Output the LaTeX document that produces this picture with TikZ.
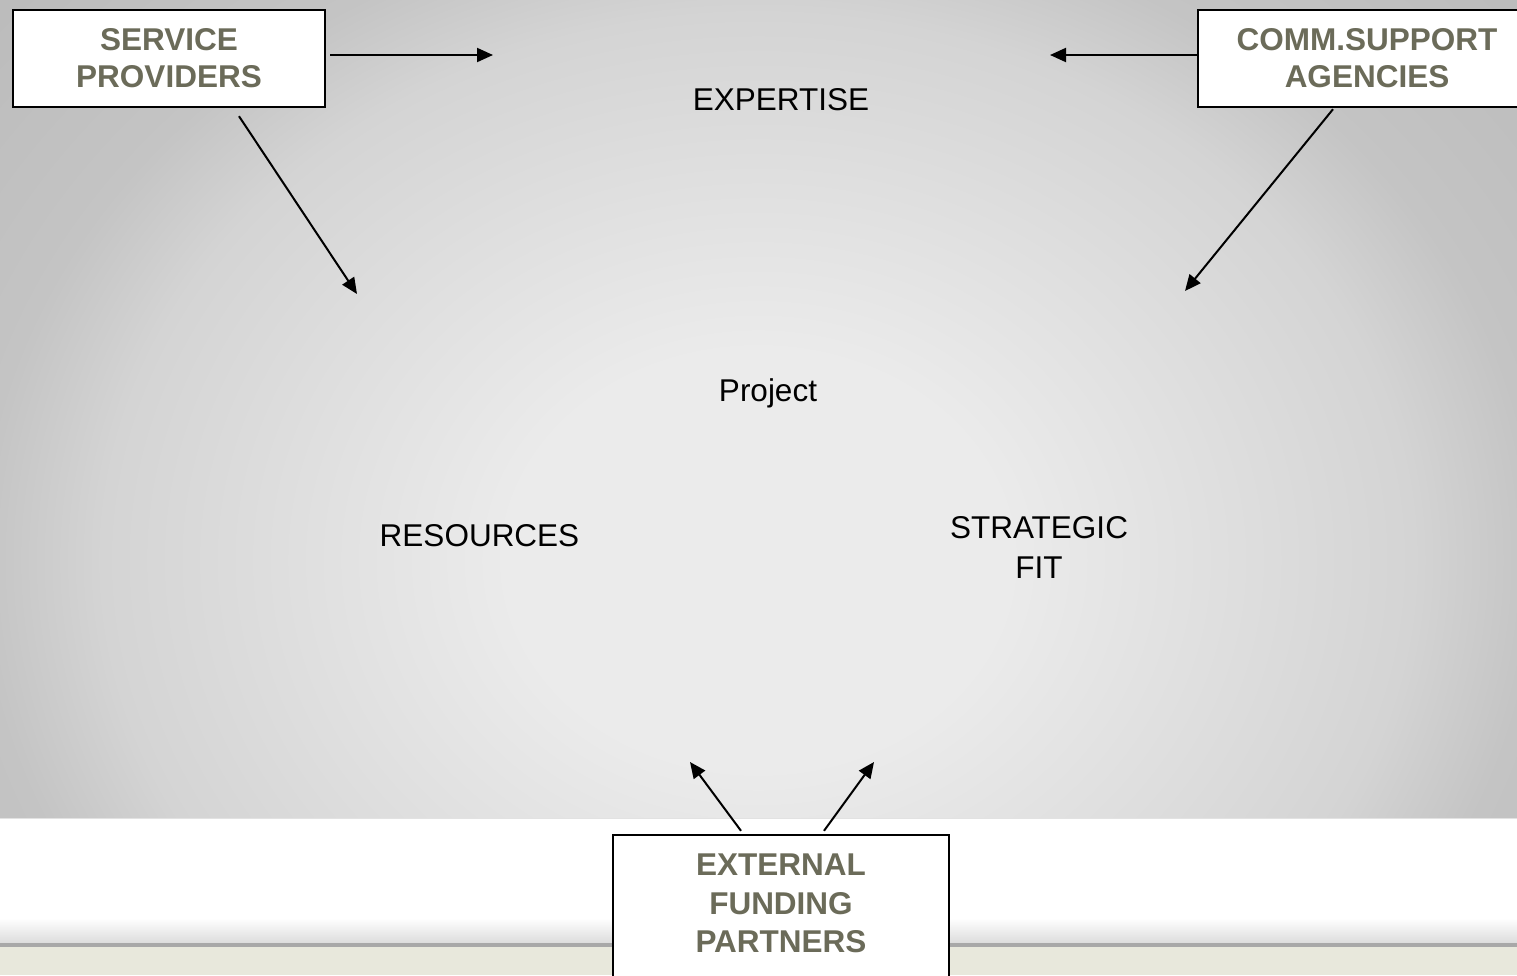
\documentclass[tikz,border=0pt]{standalone}
\usepackage{fontspec}
\setmainfont{Liberation Sans}
\usetikzlibrary{arrows.meta,calc}
\definecolor{boxtext}{HTML}{6B6B59}
\definecolor{beige}{HTML}{E8E8DC}
\definecolor{gA}{HTML}{EBEBEB}
\definecolor{gB}{HTML}{D4D4D4}
\definecolor{gC}{HTML}{C4C4C4}
\definecolor{gD}{HTML}{BBBBBB}
\definecolor{shadowgray}{HTML}{DCDCDC}
\definecolor{linegray}{HTML}{A8A8A8}
\definecolor{edgegray}{HTML}{E2E2E2}
\pgfdeclareradialshading{bgshade}{\pgfpoint{0bp}{0bp}}{color(0bp)=(gA); color(8bp)=(gA); color(21bp)=(gB); color(25bp)=(gC); color(33bp)=(gD); color(50bp)=(gD)}
\tikzset{
  box/.style={draw=black, line width=2.4pt, fill=white, inner sep=0pt},
  boxtxt/.style={font=\bfseries\fontsize{31.5}{37}\selectfont, text=boxtext, align=center, inner sep=0pt},
  lbl/.style={font=\fontsize{31.5}{40}\selectfont, text=black, align=center, inner sep=0pt},
  arr/.style={line width=2pt, -{Triangle[length=16pt,width=14pt]}}
}
\begin{document}
\begin{tikzpicture}[x=1pt,y=-1pt]
\useasboundingbox (0,0) rectangle (1517,975);
% background
\begin{scope}
\clip (0,0) rectangle (1517,818);
\shade[shading=bgshade] (-22,-90) rectangle (1538,1210);
\end{scope}
\fill[white] (0,818) rectangle (1517,975);
\draw[edgegray, line width=1pt] (0,818.5) -- (1517,818.5);
\shade[top color=white, bottom color=shadowgray] (0,918) rectangle (1517,943);
\fill[linegray] (0,943) rectangle (1517,947);
\fill[beige] (0,947) rectangle (1517,975);
% boxes
\node[box, boxtxt, minimum width=312pt, minimum height=97pt] (sp) at (169,58.5) {SERVICE\\PROVIDERS};
\node[box, boxtxt, minimum width=338pt, minimum height=97pt] (cs) at (1367,58.5) {COMM.SUPPORT\\AGENCIES};
\node[box, minimum width=336pt, minimum height=180pt] (ef) at (781,925) {};
\node[boxtxt, font=\bfseries\fontsize{31.5}{38.5}\selectfont] (eft) at (781,903.5) {EXTERNAL\\FUNDING\\PARTNERS};
% labels
\node[lbl, anchor=base] (exp) at (781,110) {EXPERTISE};
\node[lbl, anchor=base] (proj) at (768,401) {Project};
\node[lbl, anchor=base] (res) at (479.5,546) {RESOURCES};
\node[lbl] (sf) at (1039,547) {STRATEGIC\\FIT};
% arrow targets
\coordinate (t1) at (493,55);
\coordinate (t2) at (1050,55);
\coordinate (t3) at (357,294);
\coordinate (t4) at (1185,291);
\coordinate (t5) at (690,762);
\coordinate (t6) at (874,762);
% arrows
\draw[arr] ($(sp.east)+(4,-3.5)$) -- (t1);
\draw[arr] ($(cs.west)+(0,-3.5)$) -- (t2);
\draw[arr] ($(sp.south)+(70,8)$) -- (t3);
\draw[arr] ($(cs.south)+(-34,1)$) -- (t4);
\draw[arr] ($(ef.north)+(-40,-3)$) -- (t5);
\draw[arr] ($(ef.north)+(43,-3)$) -- (t6);
\end{tikzpicture}
\end{document}
